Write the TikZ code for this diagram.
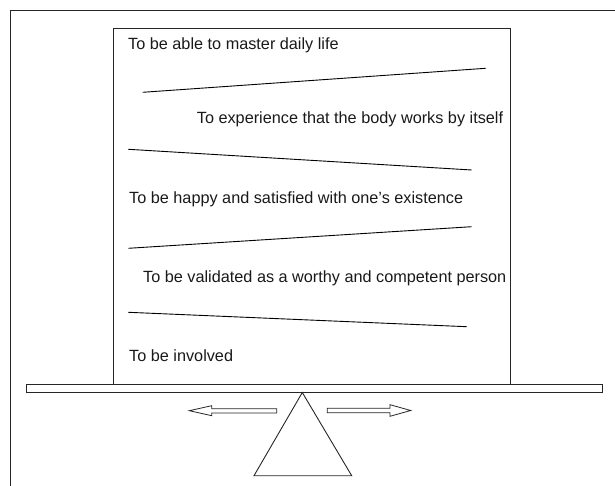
\documentclass[tikz,border=0pt]{standalone}
\usepackage{fontspec}
\setmainfont{Liberation Sans}
\begin{document}
\begin{tikzpicture}[x=1pt,y=-1pt,
  outline/.style={draw=black!85,line width=0.9pt},
  divider/.style={draw=black,line width=0.9pt},
  goal/.style={anchor=base west,inner sep=0pt,font=\fontsize{16.25}{19}\selectfont,text=black!90}]
  \useasboundingbox (0,0) rectangle (615,486);

  % outer frame (open towards right and bottom)
  \draw[outline] (10.7,490) -- (10.7,10.7) -- (620,10.7);

  % the box of goals resting on the plank
  \draw[outline] (113.3,384) -- (113.3,28) -- (510.5,28) -- (510.5,384);

  % plank
  \draw[outline] (26.7,384) rectangle (602.7,392);

  % fulcrum
  \draw[outline,line join=miter] (302.3,392.5) -- (254,475.7) -- (351.7,475.7) -- cycle;

  % hollow arrows pointing away from the fulcrum
  \draw[outline,line width=0.8pt] (276.7,408.7) -- (211.7,408.7) -- (211.7,405.7) -- (189.3,410.7)
      -- (211.7,415.7) -- (211.7,413) -- (276.7,413) -- cycle;
  \draw[outline,line width=0.8pt] (327.3,408.3) -- (390,408.3) -- (390,404.7) -- (410.7,410.5)
      -- (390,416.3) -- (390,412.7) -- (327.3,412.7) -- cycle;

  % goals
  \node[goal] (g1) at (128,49.5) {To be able to master daily life};
  \node[goal] (g2) at (196.7,123.8) {To experience that the body works by itself};
  \node[goal] (g3) at (129,204) {To be happy and satisfied with one’s existence};
  \node[goal] (g4) at (143,282.5) {To be validated as a worthy and competent person};
  \node[goal] (g5) at (129,361) {To be involved};

  % slanted dividers between the goals
  \coordinate (d1a) at (142.7,92.3);  \coordinate (d1b) at (485.7,68.3);
  \coordinate (d2a) at (128.3,149.3); \coordinate (d2b) at (471.7,170);
  \coordinate (d3a) at (128.3,248.3); \coordinate (d3b) at (471.7,226.7);
  \coordinate (d4a) at (128.3,312.3); \coordinate (d4b) at (466.7,326.7);
  \draw[divider] (d1a) -- (d1b);
  \draw[divider] (d2a) -- (d2b);
  \draw[divider] (d3a) -- (d3b);
  \draw[divider] (d4a) -- (d4b);
\end{tikzpicture}
\end{document}
